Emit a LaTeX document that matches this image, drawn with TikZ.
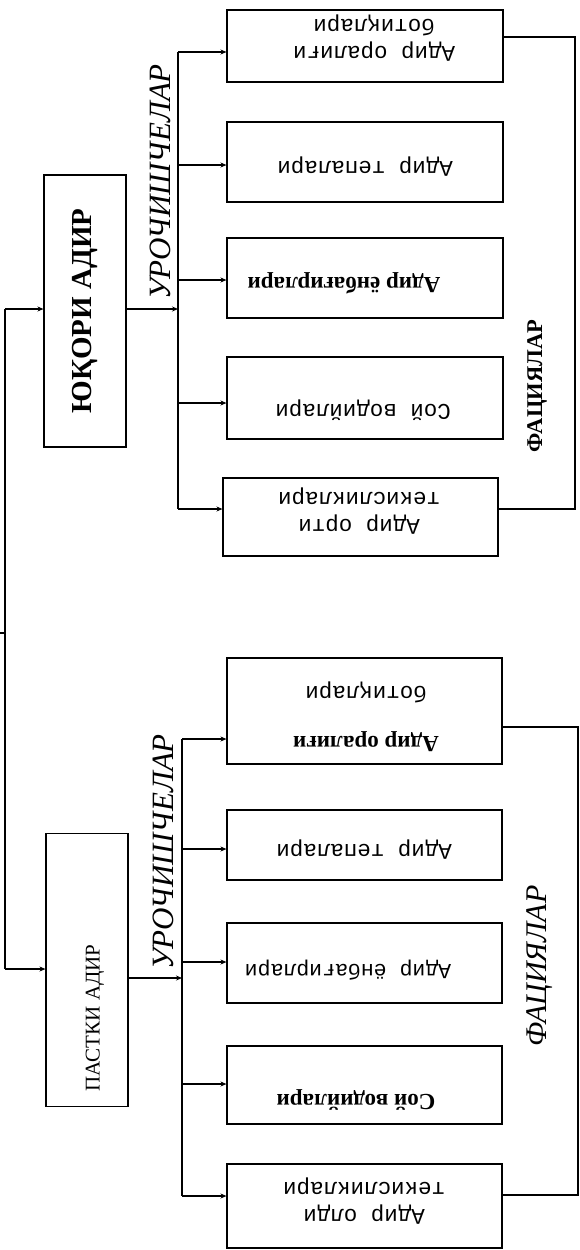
\documentclass[tikz,border=0pt]{standalone}
\usepackage{fontspec}
\setmainfont{Liberation Serif}
\newfontfamily\monof{Liberation Mono}
\usetikzlibrary{arrows.meta}
\tikzset{
  box/.style={draw, line width=1.1pt, inner sep=0pt},
  ln/.style={line width=1.1pt},
  arr/.style={line width=1.1pt, -{Stealth[length=6pt,width=5pt]}},
  mono/.style={font=\monof\fontsize{22.5}{27}\selectfont},
  bser/.style={font=\bfseries\fontsize{23}{27}\selectfont},
  flip/.style={rotate=180, inner sep=0pt, align=center},
  vlab/.style={rotate=90, inner sep=0pt},
}
\begin{document}
\begin{tikzpicture}[x=1pt,y=-1pt]
\useasboundingbox (0,0) rectangle (580,1250);
% main boxes
\node[box, minimum width=82pt, minimum height=272pt] (up) at (85,311) {};
\node[vlab, font=\bfseries\fontsize{29}{32}\selectfont] (upt) at (85,311) {ЮҚОРИ АДИР};
\node[box, minimum width=82pt, minimum height=273pt] (lo) at (87,970) {};
\node[vlab, font=\fontsize{21}{24}\selectfont] (lot) at (95,1018) {ПАСТКИ АДИР};
% upper group boxes
\node[box, minimum width=276pt, minimum height=72pt] (u1) at (365,46) {};
\node[box, minimum width=276pt, minimum height=80pt] (u2) at (365,162) {};
\node[box, minimum width=276pt, minimum height=80pt] (u3) at (365,278) {};
\node[box, minimum width=276pt, minimum height=82pt] (u4) at (365,398) {};
\node[box, minimum width=275pt, minimum height=78pt] (u5) at (360.5,517) {};
\node[flip, mono] (u1t) at (374,38.5) {Адир оралиғи\\ботиқлари};
\node[flip, mono] (u2t) at (365,167) {Адир тепалари};
\node[flip, bser] (u3t) at (344,283) {Адир ёнбағирлари};
\node[flip, mono] (u4t) at (363,410) {Сой водийлари};
\node[flip, mono] (u5t) at (359,511.5) {Адир орти\\текисликлари};
% lower group boxes
\node[box, minimum width=275pt, minimum height=106pt] (l1) at (364.5,711) {};
\node[box, minimum width=275pt, minimum height=70pt] (l2) at (364.5,845) {};
\node[box, minimum width=275pt, minimum height=80pt] (l3) at (364.5,963) {};
\node[box, minimum width=275pt, minimum height=78pt] (l4) at (364.5,1085) {};
\node[box, minimum width=275pt, minimum height=84pt] (l5) at (364.5,1206) {};
\node[flip, bser] (l1a) at (366,742) {Адир оралиғи};
\node[flip, mono] (l1b) at (366,692) {ботиқлари};
\node[flip, mono] (l2t) at (364,850) {Адир тепалари};
\node[flip, mono, font=\monof\fontsize{21.5}{26}\selectfont] (l3t) at (348,970) {Адир ёнбағирлари};
\node[flip, bser] (l4t) at (356,1100) {Сой водийлари};
\node[flip, mono] (l5t) at (364,1201.5) {Адир олди\\текисликлари};
% labels
\node[vlab, font=\itshape\fontsize{31}{34}\selectfont] (ulab) at (160,182) {УРОЧИШЧЕЛАР};
\node[vlab, font=\itshape\fontsize{31}{34}\selectfont] (llab) at (163,852) {УРОЧИШЧЕЛАР};
\node[vlab, font=\bfseries\fontsize{22.5}{25}\selectfont] (uf) at (537,386) {ФАЦИЯЛАР};
\node[vlab, font=\itshape\fontsize{30}{33}\selectfont] (lf) at (540,966) {ФАЦИЯЛАР};
% left trunk
\coordinate (lt) at (5,309);
\coordinate (lb) at (5,969);
\coordinate (lj) at (5,633);
\coordinate (lr) at (0,633);
\draw[ln] (lt) -- (lb);
\draw[ln] (lr) -- (lj);
\draw[arr] (lt) -- (up.west |- lt);
\draw[arr] (lb) -- (lo.west |- lb);
% upper bus
\coordinate (ub1) at (178,52);
\coordinate (ub2) at (178,165);
\coordinate (ub3) at (178,280);
\coordinate (ub4) at (178,403);
\coordinate (ub5) at (178,509);
\coordinate (ubin) at (178,309);
\draw[ln] (ub1) -- (ub5);
\draw[arr] (up.east |- ubin) -- (ubin);
\foreach \i in {1,...,5} {\draw[arr] (ub\i) -- (u\i.west |- ub\i);}
\coordinate (ur1) at (575,37);
\coordinate (ur2) at (575,509);
\draw[ln] (u1.east |- ur1) -- (ur1) -- (ur2) -- (u5.east |- ur2);
% lower bus
\coordinate (lb1) at (182,739);
\coordinate (lb2) at (182,849);
\coordinate (lb3) at (182,962);
\coordinate (lb4) at (182,1084);
\coordinate (lb5) at (182,1196);
\coordinate (lbin) at (182,978);
\draw[ln] (lb1) -- (lb5);
\draw[arr] (lo.east |- lbin) -- (lbin);
\foreach \i in {1,...,5} {\draw[arr] (lb\i) -- (l\i.west |- lb\i);}
\coordinate (lr1) at (578,727);
\coordinate (lr2) at (578,1195);
\draw[ln] (l1.east |- lr1) -- (lr1) -- (lr2) -- (l5.east |- lr2);
\end{tikzpicture}
\end{document}
